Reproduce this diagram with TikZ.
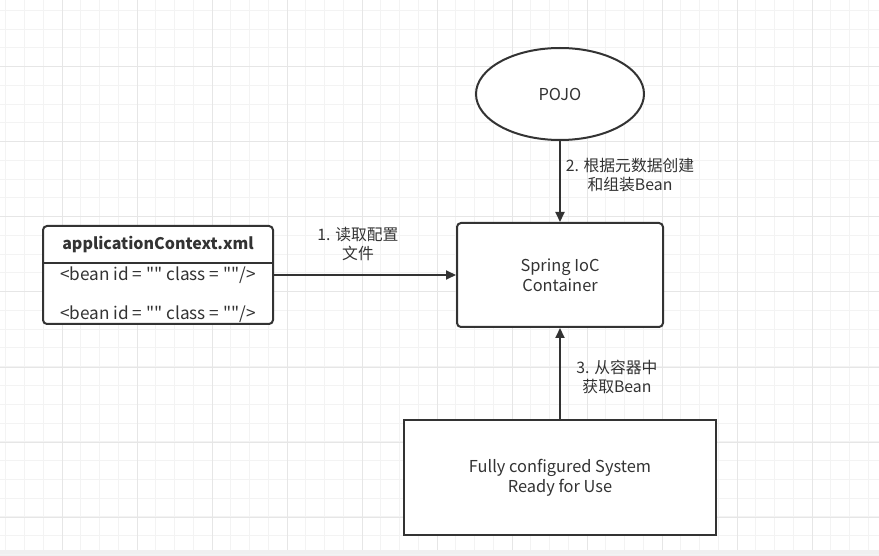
\documentclass[tikz,border=0pt]{standalone}
\usepackage{fontspec}
\setmainfont{Noto Sans CJK SC}[Ligatures=TeXOff]
\usetikzlibrary{arrows.meta,shapes.geometric}

\definecolor{ink}{HTML}{333333}
\definecolor{gridminor}{HTML}{F3F3F3}
\definecolor{gridmajor}{HTML}{E6E6E6}
\definecolor{band}{HTML}{F0F0F0}

\begin{document}
\begin{tikzpicture}[x=1pt,y=-1pt,
    box/.style={draw=ink,line width=2pt,fill=white,text=ink,align=center,
      font=\fontsize{16.4}{20}\selectfont},
    lbl/.style={text=ink,align=center,font=\fontsize{15.8}{19}\selectfont},
    arr/.style={draw=ink,line width=2pt,-{Triangle[length=10pt,width=9pt]}}]
      \useasboundingbox (0,0) rectangle (879,556);
      \fill[white] (0,0) rectangle (879,550);
      \fill[band] (0,550) rectangle (879,556);

      % grid
      \foreach \i in {0,1,...,46} {
        \draw[gridminor,line width=1pt] (5.75+\i*18.75,0) -- (5.75+\i*18.75,550);
      }
      \foreach \i in {0,1,...,29} {
        \draw[gridminor,line width=1pt] (0,10.5+\i*18.75) -- (879,10.5+\i*18.75);
      }
      \foreach \i in {0,1,...,11} {
        \draw[gridmajor,line width=1pt] (62+\i*75,0) -- (62+\i*75,550);
      }
      \foreach \i in {0,1,...,7} {
        \draw[gridmajor,line width=1pt] (0,67+\i*75) -- (879,67+\i*75);
      }

      % nodes
      \node[box,ellipse,minimum width=168pt,minimum height=92pt] (pojo) at (560,94) {POJO};
      \node[box,rounded corners=4pt,minimum width=206pt,minimum height=104pt] (ioc) at (560,275) {Spring IoC\\Container};
      \node[box,minimum width=312pt,minimum height=115pt] (sys) at (560,477.5) {Fully configured System\\Ready for Use};

      \node[box,rounded corners=4pt,minimum width=230pt,minimum height=98pt] (app) at (158,275) {};
      \draw[draw=ink,line width=2pt] (app.west |- 0,263) -- (app.east |- 0,263);
      \node[text=ink,font=\fontsize{16}{20}\selectfont\bfseries] (apptitle) at (158,245) {applicationContext.xml};
      \node[text=ink,font=\fontsize{17.2}{20}\selectfont] (bean1) at (158,275) {<bean id = "" class = ""/>};
      \node[text=ink,font=\fontsize{17.2}{20}\selectfont] (bean2) at (158,314) {<bean id = "" class = ""/>};

      % arrows
      \draw[arr] (app.east) -- (ioc.west);
      \node[lbl] (step1) at (358,244) {1. 读取配置\\文件};
      \draw[arr] (pojo) -- (ioc);
      \node[lbl] (step2) at (630,175) {2. 根据元数据创建\\和组装Bean};
      \draw[arr] (sys) -- (ioc);
      \node[lbl] (step3) at (617,377) {3. 从容器中\\获取Bean};
  \end{tikzpicture}
\end{document}
